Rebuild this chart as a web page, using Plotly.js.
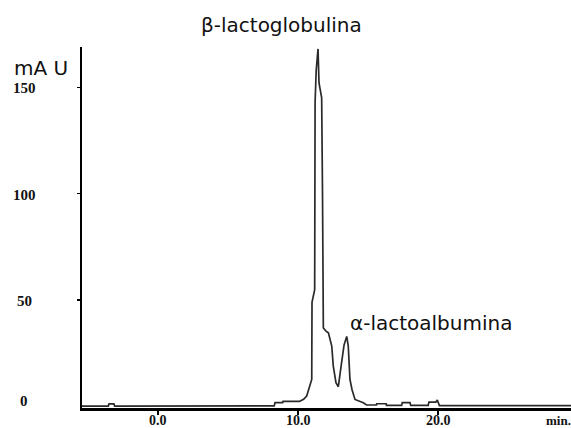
<!DOCTYPE html>
<html>
<head>
<meta charset="utf-8">
<script src="https://cdn.plot.ly/plotly-3.0.1.min.js"></script>
<style>
  html, body { margin: 0; padding: 0; background: #fff; }
  #chart { width: 571px; height: 428px; }
</style>
</head>
<body>
<div id="chart"></div>
<script>
// Retention time (min) and absorbance (mAU) of the whey protein chromatogram
const timeMin = [
  -5.5, -3.55, -3.5, -3.15, -3.1, 8.3, 8.36, 8.9, 8.93, 10.1, 10.4, 10.62,
  10.98, 11.0, 11.19, 11.22, 11.3, 11.43, 11.5, 11.6, 11.69, 11.75, 11.81,
  12.0, 12.17, 12.41, 12.52, 12.71, 12.88, 13.11, 13.29, 13.48, 13.59, 13.71,
  13.86, 14.07, 14.43, 14.66, 14.9, 15.6, 15.62, 16.3, 16.32, 17.4, 17.45,
  18.0, 18.05, 19.3, 19.35, 19.85, 19.95, 20.1, 29.5
];
const absorbance = [
  0.3, 0.3, 1.3, 1.3, 0.3, 0.4, 1.9, 1.9, 2.5, 2.5, 3.5, 5,
  12.8, 49, 55, 143, 158, 168, 152, 147, 145, 100, 37,
  35.5, 34.7, 28.5, 19, 11.3, 9.4, 20.6, 29, 33, 28.5, 12.8,
  8, 3.4, 2.6, 1.9, 0.8, 0.8, 1.4, 1.4, 0.6, 0.6, 1.9,
  1.9, 0.6, 0.6, 2.2, 2.2, 3.1, 0.5, 0.5
];

const xTickVals = [0, 10, 20];
const xTickText = ['0.0', '10.0', '20.0'];
const yTickVals = [0, 50, 100, 150];
const yTickText = ['0', '50', '100', '150'];

const peakNames = ['\u03b2-lactoglobulina', '\u03b1-lactoalbumina'];

const serifBold = { family: 'Liberation Serif, Times New Roman, serif', size: 15, color: '#111' };
const sans = { family: 'DejaVu Sans, sans-serif', size: 20, color: '#111' };

const annotations = [];
// y-axis labels, centred in the left margin
yTickVals.forEach((v, i) => {
  annotations.push({
    xref: 'paper', yref: 'y', x: -0.1186, y: v,
    text: '<b>' + yTickText[i] + '</b>', showarrow: false,
    xanchor: 'center', yanchor: 'middle', yshift: v === 0 ? 6 : -1,
    font: serifBold
  });
});
// x-axis labels under the tick marks
xTickVals.forEach((v, i) => {
  annotations.push({
    xref: 'x', yref: 'paper', x: v, y: -0.036,
    text: '<b>' + xTickText[i] + '</b>', showarrow: false,
    xanchor: 'center', yanchor: 'middle',
    font: Object.assign({}, serifBold, { size: 14 })
  });
});
annotations.push({
  xref: 'x', yref: 'paper', x: 28.6, y: -0.036,
  text: '<b>min.</b>', showarrow: false, xanchor: 'center', yanchor: 'middle',
  font: Object.assign({}, serifBold, { size: 13 })
});
annotations.push({
  xref: 'paper', yref: 'paper', x: -0.0838, y: 0.942,
  text: 'mA U', showarrow: false, xanchor: 'center', yanchor: 'middle', font: sans
});
annotations.push({
  xref: 'paper', yref: 'paper', x: 0.407, y: 1.061,
  text: peakNames[0], showarrow: false, xanchor: 'center', yanchor: 'middle', font: sans
});
annotations.push({
  xref: 'paper', yref: 'paper', x: 0.714, y: 0.2355,
  text: peakNames[1], showarrow: false, xanchor: 'center', yanchor: 'middle', font: sans
});

const trace = {
  x: timeMin, y: absorbance, type: 'scatter', mode: 'lines',
  line: { color: '#2a2a2a', width: 1.7 },
  hoverinfo: 'skip'
};

const layout = {
  width: 571, height: 428,
  margin: { l: 82, r: 0, t: 47, b: 20, pad: 0 },
  paper_bgcolor: '#fff', plot_bgcolor: '#fff',
  showlegend: false,
  xaxis: {
    range: [-5.43, 29.5],
    showgrid: false, zeroline: false,
    showline: true, linecolor: '#000', linewidth: 2.5,
    ticks: 'outside', ticklen: 4, tickwidth: 1.5, tickcolor: '#000',
    tickvals: xTickVals,
    showticklabels: false
  },
  yaxis: {
    range: [-0.6, 168.9],
    showgrid: false, zeroline: false,
    showline: true, linecolor: '#000', linewidth: 2,
    ticks: 'outside', ticklen: 3, tickwidth: 1.5, tickcolor: '#000',
    tickvals: [50, 100, 150],
    showticklabels: false
  },
  annotations: annotations
};

Plotly.newPlot('chart', [trace], layout, { displayModeBar: false, staticPlot: true });
</script>
</body>
</html>
